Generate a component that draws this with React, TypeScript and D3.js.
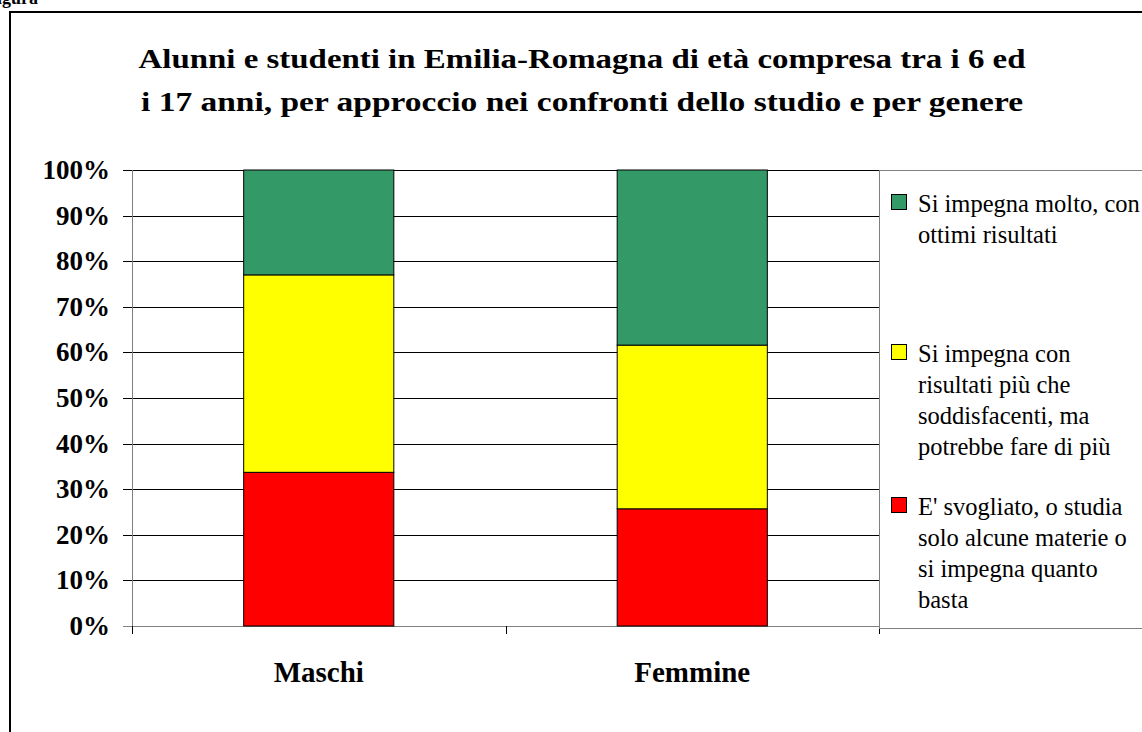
import React from 'react';
import * as d3 from 'd3';

const categories = ['Maschi', 'Femmine'];
const seriesKeys = ['svogliato', 'piuChe', 'molto'];
const seriesLabels: Record<string, string[]> = {
    molto: ['Si impegna molto, con', 'ottimi risultati'],
    piuChe: ['Si impegna con', 'risultati più che', 'soddisfacenti, ma', 'potrebbe fare di più'],
    svogliato: ["E' svogliato, o studia", 'solo alcune materie o', 'si impegna quanto', 'basta'],
};
const svogliatoValues = [33.7, 25.7];
const piuCheValues = [43.3, 35.9];
const moltoValues = [23.0, 38.4];
const yTicks = [0, 10, 20, 30, 40, 50, 60, 70, 80, 90, 100];
const titleLines = [
    'Alunni e studenti in Emilia-Romagna di età compresa tra i 6 ed',
    'i 17 anni, per approccio nei confronti dello studio e per genere',
];

const colors: Record<string, string> = { molto: '#339966', piuChe: '#FFFF00', svogliato: '#FF0000' };
const FONT = 'Liberation Serif';

export default function App() {
    const width = 1142;
    const height = 732;
    const plot = { left: 132, right: 879, top: 170, bottom: 626 };

    const rows = categories.map((c, i) => ({
        category: c,
        svogliato: svogliatoValues[i],
        piuChe: piuCheValues[i],
        molto: moltoValues[i],
    }));
    const series = d3.stack<any>().keys(seriesKeys)(rows);

    const x = d3.scaleBand().domain(categories).range([plot.left, plot.right]).padding(0);
    const y = d3.scaleLinear().domain([0, 100]).range([plot.bottom, plot.top]);
    const barW = x.bandwidth() * 0.402;

    const legendOrder = [
        { key: 'molto', baseline: 212 },
        { key: 'piuChe', baseline: 362 },
        { key: 'svogliato', baseline: 515 },
    ];
    const lineH = 31;
    // the title in the source is drawn wider than its height suggests
    const titleWidths = [887, 882];

    return (
        <div style={{ position: 'fixed', left: 0, top: 0, background: '#fff' }}>
            <svg width={width} height={height} style={{ display: 'block' }}>
                <rect x={0} y={0} width={width} height={height} fill="#fff" />
                <text x={-14} y={4} fontFamily={FONT} fontSize={18} fontWeight="bold" fill="#000">Figura</text>
                <rect x={10} y={12} width={width + 20} height={height + 20} fill="none" stroke="#000" strokeWidth={2} />

                {titleLines.map((t, i) => (
                    <text key={i} x={582} y={68 + i * 43} textAnchor="middle" fontFamily={FONT} fontSize={28} fontWeight="bold"
                        textLength={titleWidths[i]} lengthAdjust="spacingAndGlyphs" fill="#000">{t}</text>
                ))}

                {/* gridlines + y ticks */}
                {yTicks.map(t => (
                    <g key={t}>
                        <line x1={plot.left - 9} x2={plot.right} y1={Math.round(y(t)) + 0.5} y2={Math.round(y(t)) + 0.5}
                            stroke={t === 0 ? '#808080' : '#000'} strokeWidth={1} />
                        <text x={110} y={y(t) + 9} textAnchor="end" fontFamily={FONT} fontSize={27} fontWeight="bold" fill="#000">{t}%</text>
                    </g>
                ))}

                {/* bars */}
                {series.map(s => (
                    <g key={s.key} fill={colors[s.key]} stroke="#000" strokeWidth={1}>
                        {s.map((d, i) => {
                            const cx = (x(categories[i]) as number) + x.bandwidth() / 2;
                            return (
                                <rect key={i} x={cx - barW / 2} y={y(d[1])} width={barW} height={y(d[0]) - y(d[1])} />
                            );
                        })}
                    </g>
                ))}

                {/* axes */}
                <line x1={plot.left + 0.5} x2={plot.left + 0.5} y1={plot.top} y2={plot.bottom + 8} stroke="#808080" strokeWidth={1} />
                {[...categories.map(c => x(c) as number), plot.right].map((v, i) => (
                    <line key={i} x1={Math.round(v) + 0.5} x2={Math.round(v) + 0.5} y1={plot.bottom} y2={plot.bottom + 8} stroke="#000" strokeWidth={1} />
                ))}
                {categories.map(c => (
                    <text key={c} x={(x(c) as number) + x.bandwidth() / 2} y={682} textAnchor="middle" fontFamily={FONT} fontSize={29} fontWeight="bold" fill="#000">{c}</text>
                ))}

                {/* legend */}
                <rect x={879.5} y={170.5} width={300} height={458} fill="#fff" stroke="#808080" strokeWidth={1} />
                {legendOrder.map(item => (
                    <g key={item.key}>
                        <rect x={891.5} y={item.baseline - 17.5} width={15} height={15} fill={colors[item.key]} stroke="#000" strokeWidth={1} />
                        {seriesLabels[item.key].map((l, j) => (
                            <text key={j} x={918} y={item.baseline + j * lineH} fontFamily={FONT} fontSize={24.5} fill="#000">{l}</text>
                        ))}
                    </g>
                ))}
            </svg>
        </div>
    );
}
